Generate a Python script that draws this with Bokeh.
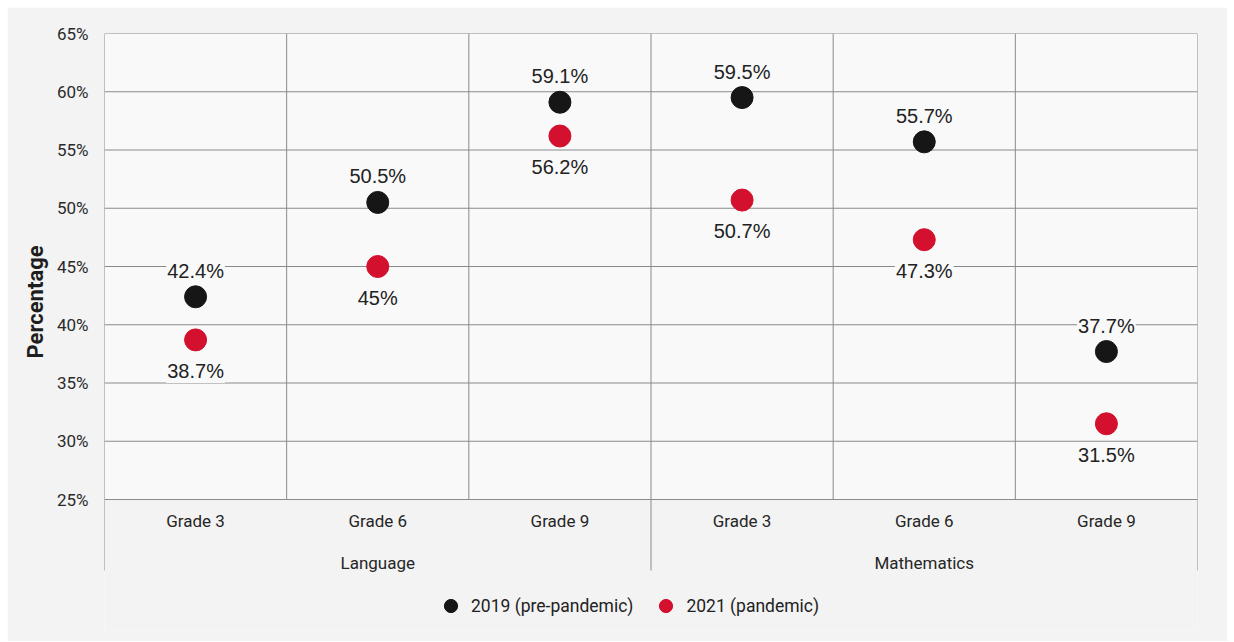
from bokeh.plotting import figure
from bokeh.models import (Range1d, FixedTicker, Legend, LegendItem, BoxAnnotation,
                          ColumnDataSource, Title)
from bokeh.core.properties import value
from bokeh.embed import file_html
from bokeh.resources import INLINE

# ---- data -------------------------------------------------------------
subjects = ["Language", "Mathematics"]
grades = ["Grade 3", "Grade 6", "Grade 9"]
pct_2019 = [42.4, 50.5, 59.1, 59.5, 55.7, 37.7]
pct_2021 = [38.7, 45.0, 56.2, 50.7, 47.3, 31.5]
series_names = ["2019 (pre-pandemic)", "2021 (pandemic)"]
y_ticks = [25, 30, 35, 40, 45, 50, 55, 60, 65]

# ---- styling ----------------------------------------------------------
NARROW = "Roboto"
REGULAR = "Liberation Sans"
C_2019 = "#161616"
C_2021 = "#d3112e"
GRID = "#8a8a8a"
OUTER_BG = "#f3f3f3"
INNER_BG = "#f9f9f9"

W, H = 1220, 634
MB_LEFT, MB_RIGHT, MB_TOP, MB_BOTTOM = 97, 30, 26, 11
frame_h = H - MB_TOP - MB_BOTTOM
value_area_px = 466          # height of the 25%..65% band
label_area_px = 71           # height of the grade / subject label band

y_lo, y_hi = y_ticks[0], y_ticks[-1]
px_per_unit = value_area_px / (y_hi - y_lo)
y_min = y_hi - frame_h / px_per_unit
y_ext = y_lo - label_area_px / px_per_unit

n_cat = len(subjects) * len(grades)
cat_labels = [g for _ in subjects for g in grades]
cat_x = [i + 0.5 for i in range(n_cat)]
subj_x = [(k + 0.5) * len(grades) for k in range(len(subjects))]

p = figure(width=W, height=H, output_backend="svg", toolbar_location=None,
           x_range=Range1d(0, n_cat), y_range=Range1d(y_min, y_hi),
           x_axis_location=None,
           min_border_left=MB_LEFT, min_border_right=MB_RIGHT,
           min_border_top=MB_TOP, min_border_bottom=MB_BOTTOM)
p.margin = (7, 7, 1, 7)
p.background_fill_color = OUTER_BG
p.border_fill_color = OUTER_BG
p.outline_line_color = None
p.xgrid.visible = False
p.ygrid.visible = False

# lighter value band
p.add_layout(BoxAnnotation(left=0, right=n_cat, bottom=y_lo, top=y_hi,
                           fill_color=INNER_BG, fill_alpha=1, line_color=None,
                           level="underlay"))

# horizontal gridlines
p.segment(x0=[0] * len(y_ticks), x1=[n_cat] * len(y_ticks), y0=y_ticks, y1=y_ticks,
          line_color=GRID, line_width=1)

# vertical separators: subject edges run down through the label band
edges = list(range(n_cat + 1))
long_edges = [e for e in edges if e % len(grades) == 0]
short_edges = [e for e in edges if e % len(grades) != 0]
p.segment(x0=short_edges, x1=short_edges, y0=[y_lo] * len(short_edges),
          y1=[y_hi] * len(short_edges), line_color=GRID, line_width=1)
p.segment(x0=long_edges, x1=long_edges, y0=[y_ext] * len(long_edges),
          y1=[y_hi] * len(long_edges), line_color=GRID, line_width=1)

# grade and subject labels
p.text(x=cat_x, y=[y_lo] * n_cat, text=cat_labels, y_offset=21,
       text_font=value(NARROW), text_font_size="17px", text_color="#262626",
       text_align="center", text_baseline="middle")
p.text(x=subj_x, y=[y_lo] * len(subjects), text=subjects, y_offset=63,
       text_font=value(NARROW), text_font_size="17px", text_color="#262626",
       text_align="center", text_baseline="middle")

# points
src = ColumnDataSource(dict(
    x=cat_x, a=pct_2019, b=pct_2021,
    la=[f"{v:g}%" for v in pct_2019], lb=[f"{v:g}%" for v in pct_2021]))
r19 = p.scatter("x", "a", source=src, size=22, fill_color=C_2019, line_color=C_2019)
r21 = p.scatter("x", "b", source=src, size=22, fill_color=C_2021, line_color=C_2021)

# value labels
p.text("x", "a", text="la", source=src, y_offset=-26,
       text_font=value(REGULAR), text_font_size="20px", text_color="#222222",
       text_align="center", text_baseline="middle",
       background_fill_color=INNER_BG, padding=1)
p.text("x", "b", text="lb", source=src, y_offset=31,
       text_font=value(REGULAR), text_font_size="20px", text_color="#222222",
       text_align="center", text_baseline="middle",
       background_fill_color=INNER_BG, padding=1)

# y axis (tick labels only)
ax = p.yaxis[0]
ax.ticker = FixedTicker(ticks=y_ticks)
ax.major_label_overrides = {t: f"{t}%" for t in y_ticks}
ax.axis_line_color = None
ax.major_tick_line_color = None
ax.minor_tick_line_color = None
ax.major_tick_out = 0
ax.major_tick_in = 0
ax.major_label_standoff = 16
ax.major_label_text_font = NARROW
ax.major_label_text_font_size = "17px"
ax.major_label_text_color = "#2a2a2a"

# vertical axis title, centred on the value band plus the label band
title_len_px = 113
title_offset = frame_h - (value_area_px + label_area_px) / 2 - title_len_px / 2
p.add_layout(Title(text="Percentage", align="left", offset=title_offset,
                   text_font=NARROW, text_font_size="22px", text_font_style="bold",
                   text_color="#1e1e1e", standoff=12), "left")

# legend, in the strip under the label band
legend = Legend(items=[LegendItem(label=series_names[0], renderers=[r19]),
                       LegendItem(label=series_names[1], renderers=[r21])],
                orientation="horizontal", location=(330, 8),
                glyph_width=33, glyph_height=33, label_standoff=4, spacing=16,
                padding=0, margin=0, border_line_color=None,
                background_fill_alpha=0,
                label_text_font=NARROW, label_text_font_size="17.5px",
                label_text_color="#222222")
p.add_layout(legend)

open("out.html", "w").write(file_html(p, INLINE))
